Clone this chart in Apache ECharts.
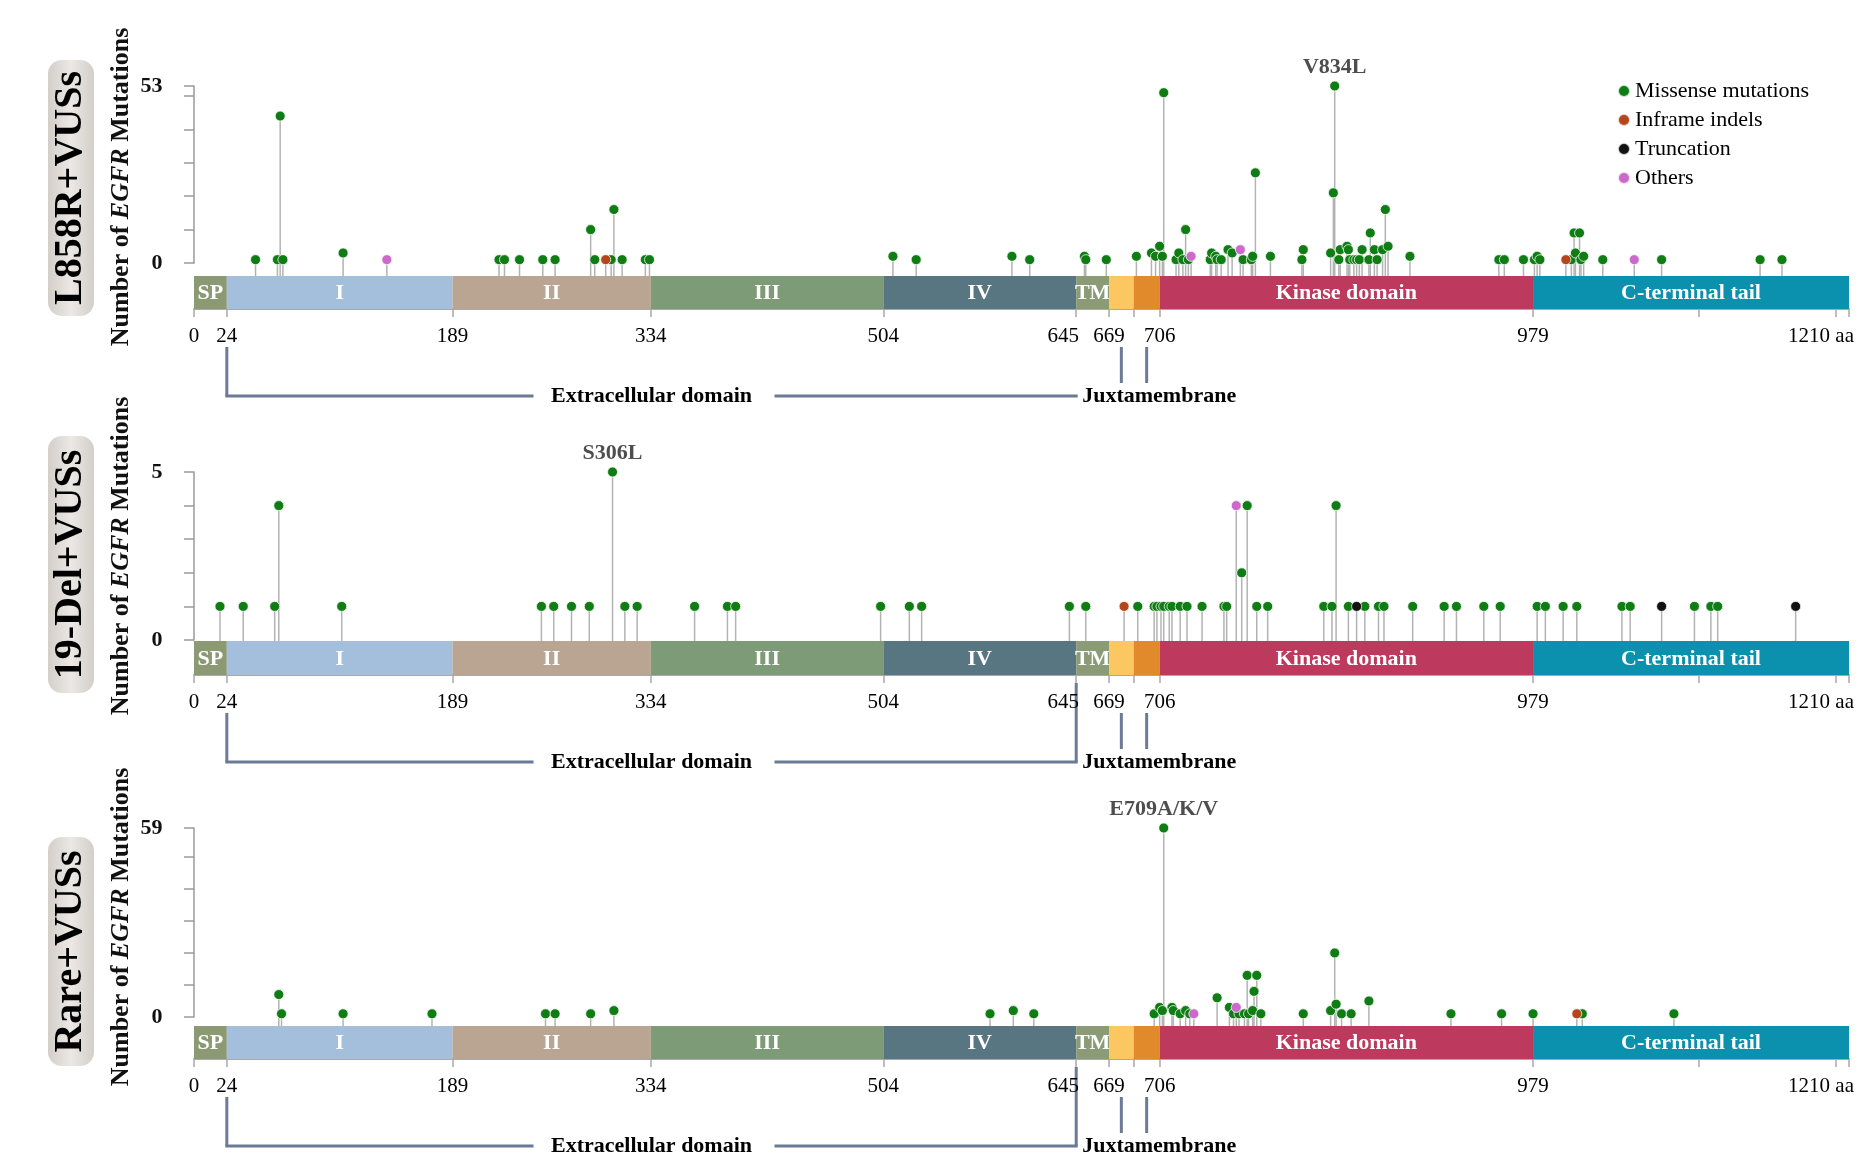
<!DOCTYPE html>
<html><head><meta charset="utf-8">
<script src="https://cdn.jsdelivr.net/npm/echarts@6/dist/echarts.min.js"></script>
<style>html,body{margin:0;padding:0;background:#fff}#c{width:1876px;height:1156px}</style>
</head><body><div id="c"></div>
<script>
// ================= DATA =================
const proteinLength = 1210;
const domainNames  = ['SP', 'I', 'II', 'III', 'IV', 'TM', '', '', 'Kinase domain', 'C-terminal tail'];
const domainStarts = [0, 24, 189, 334, 504, 645, 669, 687, 706, 979];
const domainEnds   = [24, 189, 334, 504, 645, 669, 687, 706, 979, 1210];
const domainColors = ['#8b9a73', '#a4bfdc', '#b9a591', '#7e9b77', '#587582', '#8b9b76', '#fcc660', '#e08a2c', '#bd3a5e', '#0b90ad'];
const xTickValues  = [0, 24, 189, 334, 504, 645, 669, 687, 706, 979, 1100, 1200, 1210];
const xLabelValues = [0, 24, 189, 334, 504, 645, 669, 706, 979, 1210];

const panelTitles = ['L858R+VUSs', '19-Del+VUSs', 'Rare+VUSs'];
const panelMax = [53, 5, 59];
const l858rYTicks = [0, 10, 20, 30, 40, 50, 53];
const del19YTicks = [0, 1, 2, 3, 4, 5];
const rareYTicks  = [0, 10, 20, 30, 40, 50, 59];

const mutationTypes = ['Missense mutations', 'Inframe indels', 'Truncation', 'Others'];
const typeColors = ['#0f7d14', '#b5451b', '#111111', '#cc6acc'];

// [amino-acid position, number of mutations]
const l858rMissense = [[45,1],[61,1],[63,44],[65,1],[109,3],[223,1],[227,1],[238,1],[255,1],[264,1],[290,10],[293,1],[305,1],[307,16],[313,1],[330,1],[333,1],
  [511,2],[528,1],[598,2],[611,1],[651,2],[652,1],[667,1],[689,2],
  [700,3],[703,2],[706,5],[708,2],[709,51],[718,1],[720,3],[723,1],[725,10],[727,1],
  [743,1],[744,3],[747,2],[748,1],[751,1],[756,4],[759,3],[767,1],[773,1],[774,2],[776,27],[787,2],
  [810,1],[811,4],[831,3],[833,21],[834,53],[837,1],[838,4],[843,5],[844,4],[845,1],[848,1],[850,1],[852,1],[854,4],[859,1],[860,9],[863,4],[865,1],[869,4],[871,16],[873,5],[889,2],
  [954,1],[958,1],[972,1],[980,1],[982,2],[984,1],[1007,1],[1009,9],[1010,3],[1013,9],[1014,1],[1016,2],[1030,1],[1073,1],[1145,1],[1161,1]];
const l858rInframe = [[301,1],[1003,1]];
const l858rTruncation = [];
const l858rOthers = [[141,1],[729,2],[765,4],[1053,1]];
const l858rHotspot = [[834, 53, 'V834L']];

const del19Missense = [[19,1],[36,1],[59,1],[62,4],[108,1],[254,1],[263,1],[276,1],[289,1],[306,5],[315,1],[324,1],[366,1],[390,1],[396,1],
  [502,1],[523,1],[532,1],[640,1],[652,1],[690,1],[702,1],[704,1],[707,1],[709,1],[713,1],[715,1],[721,1],[726,1],[737,1],[753,1],[755,1],
  [766,2],[770,4],[777,1],[785,1],[826,1],[832,1],[835,4],[844,1],[856,1],[866,1],[870,1],[891,1],[914,1],[923,1],[943,1],[955,1],
  [982,1],[988,1],[1001,1],[1011,1],[1044,1],[1050,1],[1097,1],[1109,1],[1114,1]];
const del19Inframe = [[680,1]];
const del19Truncation = [[850,1],[1073,1],[1171,1]];
const del19Others = [[762,4]];
const del19Hotspot = [[306, 5, 'S306L']];

const rareMissense = [[62,7],[64,1],[109,1],[174,1],[257,1],[264,1],[290,1],[307,2],[582,1],[599,2],[614,1],
  [702,1],[706,3],[708,2],[709,59],[715,3],[716,2],[721,1],[725,2],[728,1],[748,6],[757,3],[760,1],[764,1],[768,1],[770,13],[771,1],[774,2],[775,8],[777,13],[780,1],
  [811,1],[831,2],[834,20],[835,4],[839,1],[846,1],[859,5],[919,1],[956,1],[979,1],[1015,1],[1082,1]];
const rareInframe = [[1011,1]];
const rareTruncation = [];
const rareOthers = [[731,1],[762,3]];
const rareHotspot = [[709, 59, 'E709A/K/V']];

// ================= LAYOUT =================
const FONT = '"Liberation Serif", "Times New Roman", serif';
const plotTop = [86, 472, 828];
const plotH   = [177, 168, 189];
const barTop  = [276, 641, 1026];
const barH    = [33, 34, 33];
const stemGap = [13, 1, 9];
const boxTop  = [60, 436, 837];
const boxBot  = [316, 693, 1066];
const nameY   = [187, 556, 927];

const panels = [
  {title: panelTitles[0], max: panelMax[0], yTicks: l858rYTicks, sets: [l858rMissense, l858rInframe, l858rTruncation, l858rOthers], hot: l858rHotspot, jmBracket645: false},
  {title: panelTitles[1], max: panelMax[1], yTicks: del19YTicks, sets: [del19Missense, del19Inframe, del19Truncation, del19Others], hot: del19Hotspot, jmBracket645: true},
  {title: panelTitles[2], max: panelMax[2], yTicks: rareYTicks, sets: [rareMissense, rareInframe, rareTruncation, rareOthers], hot: rareHotspot, jmBracket645: true}
];

const chart = echarts.init(document.getElementById('c'));
const grid = [], xAxis = [], yAxis = [], series = [];

panels.forEach((p, k) => {
  const gp = 2 * k, gd = 2 * k + 1;
  grid.push({left: 194, right: 27, top: plotTop[k], height: plotH[k]});
  grid.push({left: 194, right: 27, top: barTop[k], height: barH[k]});
  xAxis.push({type: 'value', gridIndex: gp, min: 0, max: proteinLength, show: false});
  xAxis.push({
    type: 'value', gridIndex: gd, min: 0, max: proteinLength, position: 'bottom', offset: 8,
    axisLine: {show: true, lineStyle: {color: '#a9a9a9', width: 2}},
    axisTick: {show: true, customValues: xTickValues, length: 8, lineStyle: {color: '#a9a9a9', width: 1.5}},
    axisLabel: {
      customValues: xLabelValues, fontSize: 21, fontFamily: FONT, color: '#000', margin: 9,
      formatter: v => v === proteinLength ? '{e|' + v + ' aa}' : (v === 645 ? '{l|645}' : String(v)),
      rich: {
        e: {fontSize: 21, fontFamily: FONT, color: '#000', padding: [0, 56, 0, 0]},
        l: {fontSize: 21, fontFamily: FONT, color: '#000', padding: [0, 26, 0, 0]}
      }
    },
    splitLine: {show: false}
  });
  yAxis.push({
    type: 'value', gridIndex: gp, min: 0, max: p.max, offset: 14.5,
    axisLine: {show: true, lineStyle: {color: '#9a9a9a', width: 1.5}},
    axisTick: {show: true, customValues: p.yTicks, length: 10, lineStyle: {color: '#9a9a9a', width: 1.5}},
    axisLabel: {customValues: [0, p.max], fontSize: 22, fontWeight: 'bold', fontFamily: FONT, color: '#111', margin: 17},
    splitLine: {show: false}
  });
  yAxis.push({type: 'value', gridIndex: gd, min: 0, max: 1, show: false});

  // stems
  const all = [].concat(...p.sets);
  series.push({
    type: 'custom', name: 'stems' + k, xAxisIndex: gp, yAxisIndex: gp, clip: false, silent: true, z: 1,
    data: all,
    renderItem: (params, api) => {
      const top = api.coord([api.value(0), api.value(1)]);
      const base = api.coord([api.value(0), 0]);
      return {type: 'line', shape: {x1: top[0], y1: top[1], x2: base[0], y2: base[1] + stemGap[k]},
              style: {stroke: '#b3b3b3', lineWidth: 1.5}};
    }
  });
  // dots
  p.sets.forEach((set, t) => {
    if (!set.length) return;
    series.push({
      type: 'scatter', name: mutationTypes[t], xAxisIndex: gp, yAxisIndex: gp, data: set,
      symbol: 'circle', symbolSize: 10, clip: false, z: 3,
      itemStyle: {color: typeColors[t], borderColor: 'rgba(255,255,255,0.75)', borderWidth: 1, opacity: 1}
    });
  });
  // hotspot labels
  series.push({
    type: 'scatter', name: 'hotspot' + k, xAxisIndex: gp, yAxisIndex: gp, clip: false, silent: true, z: 4,
    symbolSize: 1, itemStyle: {color: 'rgba(0,0,0,0)'},
    data: p.hot.map(h => ({value: [h[0], h[1]], name: h[2]})),
    label: {show: true, position: 'top', distance: 7, formatter: '{b}', fontSize: 22, fontWeight: 'bold', fontFamily: FONT, color: '#222'}
  });
  // domain bar
  series.push({
    type: 'custom', name: 'domains' + k, xAxisIndex: gd, yAxisIndex: gd, clip: false, silent: true, z: 2,
    data: domainStarts.map((s, i) => [s, domainEnds[i], i]),
    renderItem: (params, api) => {
      const i = api.value(2);
      const a = api.coord([api.value(0), 1]);
      const b = api.coord([api.value(1), 0]);
      return {
        type: 'group',
        children: [
          {type: 'rect', shape: {x: a[0], y: a[1], width: b[0] - a[0], height: b[1] - a[1]}, style: {fill: domainColors[i]}},
          {type: 'text', x: (a[0] + b[0]) / 2, y: (a[1] + b[1]) / 2 + 1,
           style: {text: domainNames[i], fill: '#fff', fontSize: 22, fontWeight: 'bold', fontFamily: FONT, align: 'center', verticalAlign: 'middle'}}
        ]
      };
    }
  });
});

chart.setOption({
  animation: false,
  backgroundColor: '#fff',
  grid, xAxis, yAxis, series,
  legend: {
    data: mutationTypes, orient: 'vertical', left: 1612, top: 74,
    icon: 'circle', itemWidth: 12, itemHeight: 12, itemGap: 5,
    textStyle: {fontSize: 22, fontFamily: FONT, color: '#000', lineHeight: 24}
  }
});

// ================= ANNOTATIONS =================
const g = [];
const bracketColor = '#6b7b95';
panels.forEach((p, k) => {
  const px = v => chart.convertToPixel({xAxisIndex: 2 * k + 1}, v);
  const axisY = barTop[k] + barH[k] + 8;
  const startY = axisY + 30, lineY = axisY + 79;
  const x24 = px(24), x645 = px(645);
  const xa = px((669 + 687) / 2), xb = px((687 + 706) / 2);
  const mid = (x24 + x645) / 2;
  const ls = {stroke: bracketColor, lineWidth: 3};
  g.push({type: 'line', shape: {x1: x24, y1: startY, x2: x24, y2: lineY}, style: ls});
  g.push({type: 'line', shape: {x1: x24 - 1.5, y1: lineY, x2: mid - 118, y2: lineY}, style: ls});
  g.push({type: 'line', shape: {x1: mid + 123, y1: lineY, x2: x645 + 1.5, y2: lineY}, style: ls});
  if (p.jmBracket645) g.push({type: 'line', shape: {x1: x645, y1: axisY, x2: x645, y2: lineY}, style: ls});
  g.push({type: 'text', x: mid, y: lineY, style: {text: 'Extracellular domain', fontSize: 22, fontWeight: 'bold', fontFamily: FONT, fill: '#000', align: 'center', verticalAlign: 'middle'}});
  g.push({type: 'line', shape: {x1: xa, y1: startY, x2: xa, y2: lineY - 13}, style: ls});
  g.push({type: 'line', shape: {x1: xb, y1: startY, x2: xb, y2: lineY - 13}, style: ls});
  g.push({type: 'text', x: x645 + 6, y: lineY, style: {text: 'Juxtamembrane', fontSize: 22, fontWeight: 'bold', fontFamily: FONT, fill: '#000', align: 'left', verticalAlign: 'middle'}});

  // panel title box
  g.push({type: 'rect', shape: {x: 48, y: boxTop[k], width: 46, height: boxBot[k] - boxTop[k], r: 14},
    style: {fill: new echarts.graphic.LinearGradient(0, 0, 1, 0, [
      {offset: 0, color: '#d3cec8'}, {offset: 0.5, color: '#ebe8e5'}, {offset: 1, color: '#d3cec8'}])}});
  g.push({type: 'text', x: 71, y: (boxTop[k] + boxBot[k]) / 2, rotation: Math.PI / 2,
    style: {text: p.title, fontSize: 40, fontWeight: 'bold', fontFamily: FONT, fill: '#000', align: 'center', verticalAlign: 'middle'}});
  // y-axis name
  g.push({type: 'text', x: 121.5, y: nameY[k], rotation: Math.PI / 2,
    style: {text: '{b|Number of }{i|EGFR}{b| Mutations}', align: 'center', verticalAlign: 'middle',
      rich: {
        b: {fontSize: 26, fontWeight: 'bold', fontFamily: FONT, fill: '#111', color: '#111'},
        i: {fontSize: 26, fontWeight: 'bold', fontStyle: 'italic', fontFamily: FONT, fill: '#111', color: '#111'}
      }}});
});
chart.setOption({graphic: g});
</script>
</body></html>
